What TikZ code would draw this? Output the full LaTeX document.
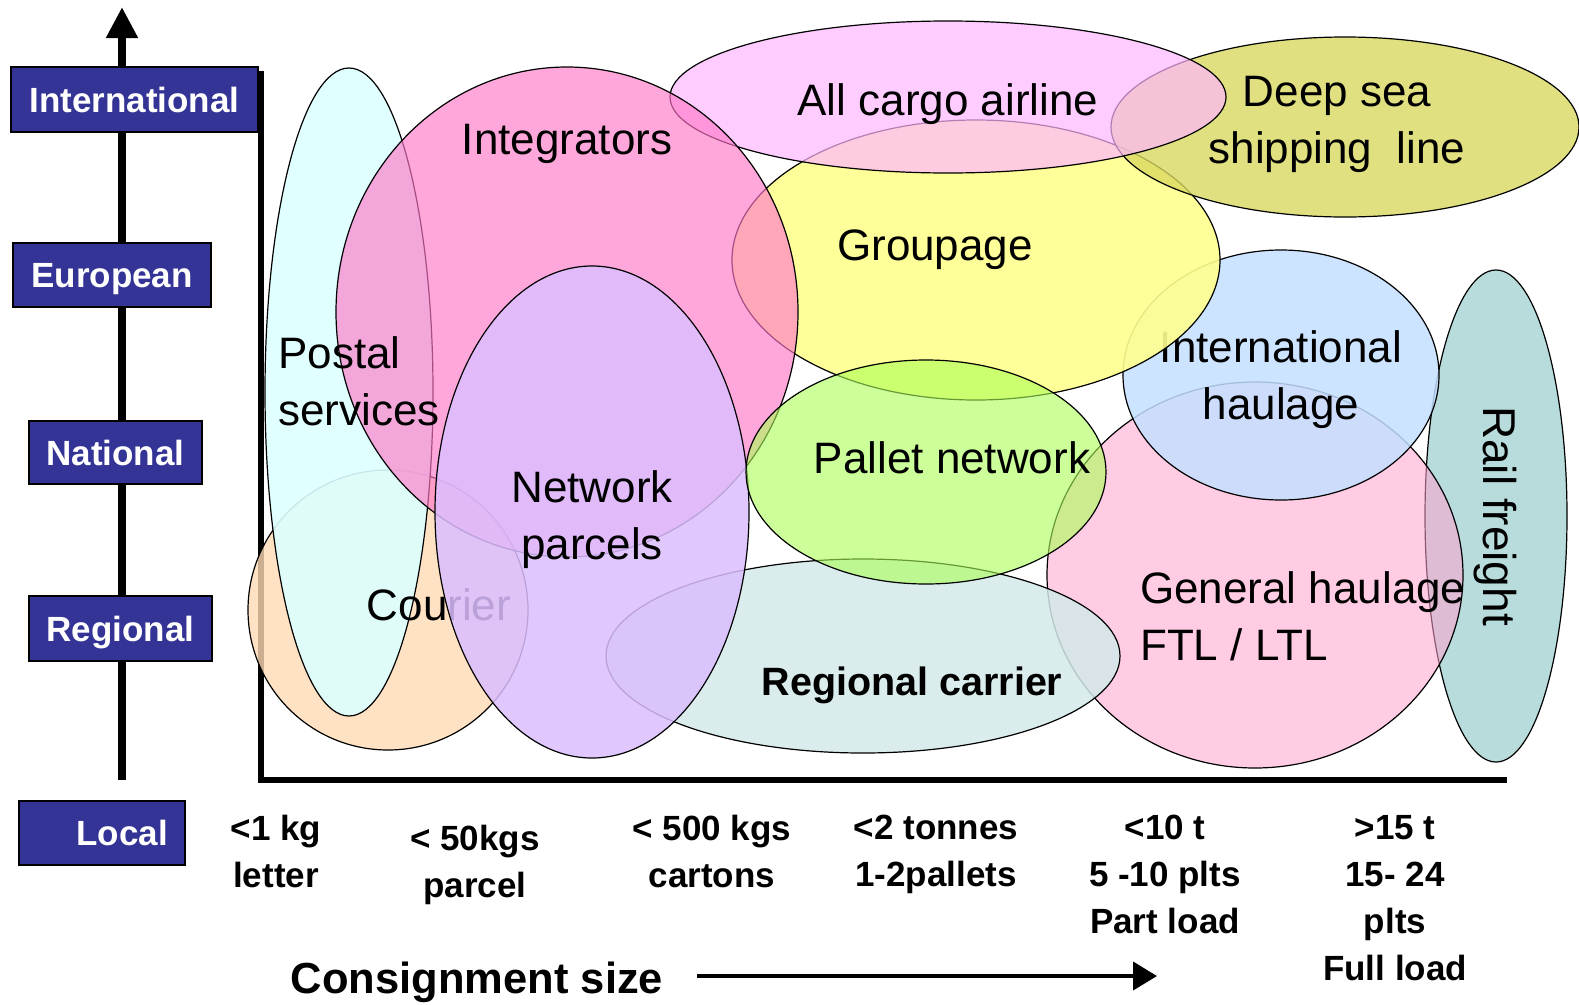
\documentclass[tikz,border=0pt]{standalone}
\usepackage{fontspec}
\setmainfont{Liberation Sans}
\usepackage{tikz}
\usetikzlibrary{shapes.geometric, arrows.meta}

\definecolor{levelblue}{RGB}{52, 52, 150}
\definecolor{railteal}{RGB}{166, 211, 211}
\definecolor{genpink}{RGB}{255, 162, 206}
\definecolor{regteal}{RGB}{211, 233, 233}
\definecolor{intlblue}{RGB}{195, 223, 255}
\definecolor{groupyellow}{RGB}{255, 255, 142}
\definecolor{seaolive}{RGB}{216, 216, 96}
\definecolor{cargopink}{RGB}{255, 182, 255}
\definecolor{couriorange}{RGB}{255, 219, 181}
\definecolor{postcyan}{RGB}{221, 255, 255}
\definecolor{integpink}{RGB}{255, 120, 200}
\definecolor{parcelviolet}{RGB}{219, 190, 255}
\definecolor{palletgreen}{RGB}{170, 255, 85}

\begin{document}
\begin{tikzpicture}[x=1pt, y=-1pt,
  lvl/.style={draw, line width=1.2pt, fill=levelblue, text=white, inner sep=0pt,
              font=\bfseries\fontsize{35}{42}\selectfont, text height=25pt, text depth=0pt},
  blob/.style={ellipse, draw, line width=1.2pt, inner sep=0pt},
  lbl/.style={inner sep=0pt, font=\fontsize{44}{57}\selectfont},
  wgt/.style={inner sep=0pt, anchor=north, align=center,
              font=\bfseries\fontsize{35}{47}\selectfont},
]
\useasboundingbox (0,0) rectangle (1579,1004);

% geographic scope axis
\coordinate (ybot) at (122,780);
\coordinate (ytop) at (122,7);
\draw[line width=8pt, -{Triangle[width=30pt,length=31pt]}] (ybot) -- (ytop);

\node[lvl, minimum width=247pt, minimum height=65pt] (intl) at (134.5,99.5) {International};
\node[lvl, minimum width=198pt, minimum height=64pt] (euro) at (112,275) {European};
\node[lvl, minimum width=173pt, minimum height=63pt] (natl) at (115.5,452.5) {National};
\node[lvl, minimum width=183pt, minimum height=65pt] (regl) at (120.5,628.5) {Regional};
\node[lvl, minimum height=64pt, text width=132pt, inner xsep=17pt, align=right] (locl) at (102,833) {Local};

% plot frame
\coordinate (ptop) at (261,71);
\coordinate (pright) at (1507,780);
\draw[line width=6pt] (ptop) |- (pright);

% service bubbles, back to front
\node[blob, fill=railteal, fill opacity=0.8, minimum width=142pt, minimum height=492pt] (rail) at (1496,516) {};
\node[lbl, anchor=base, rotate=-90, font=\fontsize{46}{57}\selectfont] (railtxt) at (1483,516) {Rail freight};

\node[blob, fill=genpink, fill opacity=0.55, minimum width=416pt, minimum height=386pt] (gen) at (1255,575) {};
\node[lbl, anchor=north west, align=left] (gentxt) at (1140,571.5) {General haulage\\FTL / LTL};

\node[blob, fill=regteal, fill opacity=0.85, minimum width=514pt, minimum height=194pt] (reg) at (863,656) {};
\node[lbl, anchor=base, font=\bfseries\fontsize{39.5}{50}\selectfont] (regtxt) at (912,695) {Regional carrier};

\node[blob, fill=intlblue, fill opacity=0.85, minimum width=316pt, minimum height=250pt] (haul) at (1281,375) {};
\node[lbl, anchor=north, align=center] (haultxt) at (1281,330.5) {International\\haulage};

\node[blob, fill=groupyellow, fill opacity=0.9, minimum width=488pt, minimum height=280pt] (grp) at (976,260) {};
\node[lbl, anchor=base] (grptxt) at (935,260) {Groupage};

\node[blob, fill=seaolive, fill opacity=0.8, minimum width=468pt, minimum height=180pt] (sea) at (1345,127) {};
\node[lbl, anchor=north, align=center] (seatxt) at (1337,76.5) {Deep sea\\shipping~~line};

\node[blob, fill=cargopink, fill opacity=0.7, minimum width=556pt, minimum height=152pt] (air) at (948,97) {};
\node[lbl, anchor=base] (airtxt) at (948,115) {All cargo airline};

\node[blob, fill=couriorange, fill opacity=0.8, minimum width=280pt, minimum height=280pt] (cour) at (388,610) {};
\node[blob, fill=postcyan, fill opacity=0.9, minimum width=168pt, minimum height=648pt] (post) at (349,392) {};
\node[lbl, anchor=base] (courtxt) at (439,620) {Courier};

\node[blob, fill=integpink, fill opacity=0.65, minimum width=462pt, minimum height=490pt] (integ) at (567,312) {};
\node[lbl, anchor=base] (integtxt) at (567,154) {Integrators};
\node[lbl, anchor=north west, align=left] (posttxt) at (278,336.5) {Postal\\services};

\node[blob, fill=parcelviolet, fill opacity=0.85, minimum width=314pt, minimum height=492pt] (parc) at (592,512) {};
\node[lbl, anchor=north, align=center] (parctxt) at (592,470.5) {Network\\parcels};

\node[blob, fill=palletgreen, fill opacity=0.6, minimum width=360pt, minimum height=224pt] (pal) at (926,472) {};
\node[lbl, anchor=base] (paltxt) at (952,473) {Pallet network};

% consignment size scale
\node[wgt] (w1) at (276,815) {<1 kg\\letter};
\node[wgt] (w2) at (475,825) {< 50kgs\\parcel};
\node[wgt] (w3) at (712,815) {< 500 kgs\\cartons};
\node[wgt] (w4) at (936,815) {<2 tonnes\\1-2pallets};
\node[wgt] (w5) at (1165,815) {<10 t\\5 -10 plts\\Part load};
\node[wgt] (w6) at (1395,815) {>15 t\\15- 24\\plts\\Full load};

\node[inner sep=0pt, anchor=base, font=\bfseries\fontsize{43.5}{50}\selectfont] (cons) at (477,993) {Consignment size};
\coordinate (arrstart) at (697,976);
\coordinate (arrend) at (1157,976);
\draw[line width=4pt, -{Triangle[width=28pt,length=24pt]}] (arrstart) -- (arrend);
\end{tikzpicture}
\end{document}
